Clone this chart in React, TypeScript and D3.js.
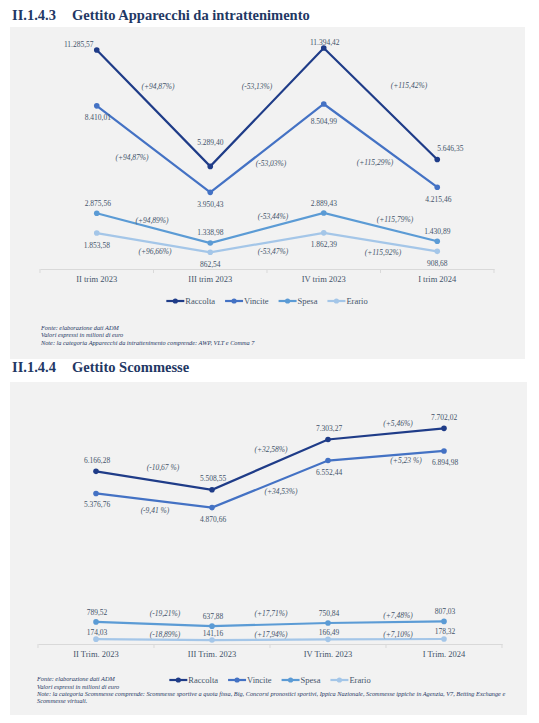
import React, { useEffect, useRef } from 'react';
import * as d3 from 'd3';

// Chart 1: Gettito Apparecchi da intrattenimento
const trimestriApparecchi = ['II trim 2023', 'III trim 2023', 'IV trim 2023', 'I trim 2024'];
const raccoltaApparecchi = [11285.57, 5289.4, 11394.42, 5646.35];
const vinciteApparecchi = [8410.01, 3950.43, 8504.99, 4215.46];
const spesaApparecchi = [2875.56, 1338.98, 2889.43, 1430.89];
const erarioApparecchi = [1853.58, 862.54, 1862.39, 908.68];
const varRaccoltaApparecchi = ['(+94,87%)', '(-53,13%)', '(+115,42%)'];
const varVinciteApparecchi = ['(+94,87%)', '(-53,03%)', '(+115,29%)'];
const varSpesaApparecchi = ['(+94,89%)', '(-53,44%)', '(+115,79%)'];
const varErarioApparecchi = ['(+96,66%)', '(-53,47%)', '(+115,92%)'];
const noteApparecchi = [
  'Fonte: elaborazione dati ADM',
  'Valori espressi in milioni di euro',
  'Note: la categoria Apparecchi da intrattenimento comprende: AWP, VLT e Comma 7',
];

// Chart 2: Gettito Scommesse
const trimestriScommesse = ['II Trim. 2023', 'III Trim. 2023', 'IV Trim. 2023', 'I Trim. 2024'];
const raccoltaScommesse = [6166.28, 5508.55, 7303.27, 7702.02];
const vinciteScommesse = [5376.76, 4870.66, 6552.44, 6894.98];
const spesaScommesse = [789.52, 637.88, 750.84, 807.03];
const erarioScommesse = [174.03, 141.16, 166.49, 178.32];
const varRaccoltaScommesse = ['(-10,67 %)', '(+32,58%)', '(+5,46%)'];
const varVinciteScommesse = ['(-9,41 %)', '(+34,53%)', '(+5,23 %)'];
const varSpesaScommesse = ['(-19,21%)', '(+17,71%)', '(+7,48%)'];
const varErarioScommesse = ['(-18,89%)', '(+17,94%)', '(+7,10%)'];
const noteScommesse = [
  'Fonte: elaborazione dati ADM',
  'Valori espressi in milioni di euro',
  'Note: la categoria Scommesse comprende: Scommesse sportive a quota fissa, Big, Concorsi pronostici sportivi, Ippica Nazionale, Scommesse ippiche in Agenzia, V7, Betting Exchange e',
  'Scommesse virtuali.',
];

const seriesNames = ['Raccolta', 'Vincite', 'Spesa', 'Erario'];
const seriesColors = ['#1f3c88', '#4472c4', '#5b9bd5', '#a4c6e8'];

const FONT = '"Liberation Serif", "Times New Roman", serif';
const TEXT = '#44546a';
const TITLE = '#1f3864';

type Offset = [number, number];

interface PanelConfig {
  code: string;
  title: string;
  titleY: number;
  box: [number, number, number, number]; // x0, y0, x1, y1
  xRange: [number, number];
  baseline: number;
  yMax: number;
  yTop: number;
  categories: string[];
  series: number[][];
  variations: string[][];
  valueOffsets: Offset[][];
  varOffsets: Offset[][];
  legendY: number;
  notes: string[];
  notesX: number;
  notesY: number;
}

const fmt = (v: number) => {
  const [int, dec] = v.toFixed(2).split('.');
  return int.replace(/\B(?=(\d{3})+(?!\d))/g, '.') + ',' + dec;
};

const panels: PanelConfig[] = [
  {
    code: 'II.1.4.3',
    title: 'Gettito Apparecchi da intrattenimento',
    titleY: 19.5,
    box: [10, 27, 525, 359],
    xRange: [40, 494],
    baseline: 269,
    yMax: 12000,
    yTop: 36.2,
    categories: trimestriApparecchi,
    series: [raccoltaApparecchi, vinciteApparecchi, spesaApparecchi, erarioApparecchi],
    variations: [varRaccoltaApparecchi, varVinciteApparecchi, varSpesaApparecchi, varErarioApparecchi],
    valueOffsets: [
      [[-18, -6], [0, -24], [1, -6], [13, -11]],
      [[1, 12], [0, 12], [0, 17], [1, 12]],
      [[1, -10], [0, -11], [0, -10], [0, -10]],
      [[0, 12], [0, 12], [0, 12], [0, 12]],
    ],
    varOffsets: [
      [[4.5, -22], [-10, -21], [28.5, -18]],
      [[-21.5, 8], [4, 15], [-5.5, 17]],
      [[-1.5, -8], [6, -12], [14.5, -8]],
      [[1.5, 9], [6, 9], [2.5, 10]],
    ],
    legendY: 301,
    notes: noteApparecchi,
    notesX: 41,
    notesY: 327.5,
  },
  {
    code: 'II.1.4.4',
    title: 'Gettito Scommesse',
    titleY: 371.5,
    box: [10, 382, 527, 715],
    xRange: [38, 502],
    baseline: 644,
    yMax: 9000,
    yTop: 392,
    categories: trimestriScommesse,
    series: [raccoltaScommesse, vinciteScommesse, spesaScommesse, erarioScommesse],
    variations: [varRaccoltaScommesse, varVinciteScommesse, varSpesaScommesse, varErarioScommesse],
    valueOffsets: [
      [[1, -10.5], [1, -11], [1, -11.5], [0, -11]],
      [[1, 10.5], [1, 11.4], [1, 11.5], [1, 11]],
      [[1, -10], [1, -10], [1, -10], [1, -10]],
      [[1, -6.5], [1, -7], [1, -6.5], [1, -8]],
    ],
    varOffsets: [
      [[9, -13.6], [1, -15.6], [12, -11]],
      [[1, 9.5], [11, 7], [20, 5]],
      [[11, -11], [1, -11.6], [12, -7]],
      [[11, -5.6], [1, -5.7], [12, -5.2]],
    ],
    legendY: 680,
    notes: noteScommesse,
    notesX: 37,
    notesY: 679,
  },
];

function drawPanel(svg: d3.Selection<SVGSVGElement, unknown, null, undefined>, p: PanelConfig) {
  const g = svg.append('g');
  const [bx0, by0, bx1, by1] = p.box;

  g.append('rect')
    .attr('x', bx0)
    .attr('y', by0)
    .attr('width', bx1 - bx0)
    .attr('height', by1 - by0)
    .attr('fill', '#f2f2f2');

  // Heading
  const head = g.append('text')
    .attr('y', p.titleY)
    .attr('font-family', FONT)
    .attr('font-size', 14.5)
    .attr('font-weight', 'bold')
    .attr('fill', TITLE);
  head.append('tspan').attr('x', 12).text(p.code);
  head.append('tspan').attr('x', 72).text(p.title);

  const x = d3.scaleBand<string>().domain(p.categories).range(p.xRange);
  const y = d3.scaleLinear().domain([0, p.yMax]).range([p.baseline, p.yTop]);
  const cx = (c: string) => (x(c) as number) + x.bandwidth() / 2;

  // X axis
  const axis = g.append('g')
    .attr('transform', `translate(0,${p.baseline})`)
    .call(d3.axisBottom(x).tickSize(0).tickSizeOuter(0).tickPadding(7));
  axis.select('.domain').attr('stroke', '#d9d9d9');
  axis.selectAll('text')
    .attr('font-family', FONT)
    .attr('font-size', 8.5)
    .attr('fill', TEXT);

  const bounds = [...p.categories.map((c) => x(c) as number), p.xRange[1]];
  g.selectAll('line.bound')
    .data(bounds)
    .enter()
    .append('line')
    .attr('x1', (d) => d)
    .attr('x2', (d) => d)
    .attr('y1', p.baseline)
    .attr('y2', p.baseline + 4)
    .attr('stroke', '#d9d9d9');

  const line = d3.line<number>()
    .x((_, i) => cx(p.categories[i]))
    .y((d) => y(d));

  p.series.forEach((values, si) => {
    const color = seriesColors[si];
    g.append('path')
      .datum(values)
      .attr('fill', 'none')
      .attr('stroke', color)
      .attr('stroke-width', 2.2)
      .attr('d', line);

    g.selectAll(`circle.s${si}`)
      .data(values)
      .enter()
      .append('circle')
      .attr('class', `s${si}`)
      .attr('cx', (_, i) => cx(p.categories[i]))
      .attr('cy', (d) => y(d))
      .attr('r', 2.8)
      .attr('fill', color);

    // value labels
    g.selectAll(`text.v${si}`)
      .data(values)
      .enter()
      .append('text')
      .attr('class', `v${si}`)
      .attr('x', (_, i) => cx(p.categories[i]) + p.valueOffsets[si][i][0])
      .attr('y', (d, i) => y(d) + p.valueOffsets[si][i][1])
      .attr('dy', '0.35em')
      .attr('text-anchor', 'middle')
      .attr('font-family', FONT)
      .attr('font-size', 7.5)
      .attr('fill', TEXT)
      .text((d) => fmt(d));

    // variation labels between points
    g.selectAll(`text.p${si}`)
      .data(p.variations[si])
      .enter()
      .append('text')
      .attr('class', `p${si}`)
      .attr('x', (_, i) => (cx(p.categories[i]) + cx(p.categories[i + 1])) / 2 + p.varOffsets[si][i][0])
      .attr('y', (_, i) => y((values[i] + values[i + 1]) / 2) + p.varOffsets[si][i][1])
      .attr('dy', '0.35em')
      .attr('text-anchor', 'middle')
      .attr('font-family', FONT)
      .attr('font-style', 'italic')
      .attr('font-size', 7.5)
      .attr('fill', TEXT)
      .text((d) => d);
  });

  // Legend, centred under the plot
  const legend = g.append('g');
  let lx = 0;
  seriesNames.forEach((name, i) => {
    const item = legend.append('g').attr('transform', `translate(${lx},0)`);
    item.append('line')
      .attr('x1', 0)
      .attr('x2', 18)
      .attr('y1', 0)
      .attr('y2', 0)
      .attr('stroke', seriesColors[i])
      .attr('stroke-width', 2.2);
    item.append('circle').attr('cx', 9).attr('cy', 0).attr('r', 2.6).attr('fill', seriesColors[i]);
    const t = item.append('text')
      .attr('x', 19)
      .attr('dy', '0.35em')
      .attr('font-family', FONT)
      .attr('font-size', 8.5)
      .attr('fill', TEXT)
      .text(name);
    const w = (t.node() as SVGTextElement).getComputedTextLength();
    lx += 19 + w + 10;
  });
  const legendW = lx - 10;
  legend.attr('transform', `translate(${(p.xRange[0] + p.xRange[1]) / 2 - legendW / 2},${p.legendY})`);

  // Notes
  g.selectAll('text.note')
    .data(p.notes)
    .enter()
    .append('text')
    .attr('class', 'note')
    .attr('x', p.notesX)
    .attr('y', (_, i) => p.notesY + i * 7.4)
    .attr('dy', '0.35em')
    .attr('font-family', FONT)
    .attr('font-style', 'italic')
    .attr('font-size', 6.3)
    .attr('fill', TITLE)
    .text((d) => d);
}

export default function App() {
  const svgRef = useRef<SVGSVGElement>(null);

  useEffect(() => {
    if (!svgRef.current) return;
    const svg = d3.select(svgRef.current);
    svg.selectAll('*').remove();
    panels.forEach((p) => drawPanel(svg, p));
  }, []);

  return (
    <svg
      ref={svgRef}
      width={539}
      height={723}
      style={{ position: 'absolute', left: 0, top: 0, background: '#fff' }}
    />
  );
}
